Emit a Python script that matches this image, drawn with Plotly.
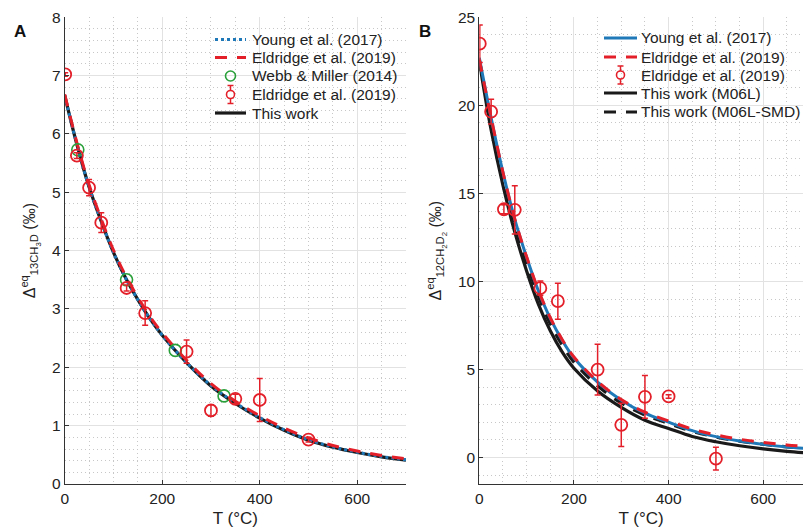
import plotly.graph_objects as go

# ---------------- Panel A data ----------------
T_curve_A = [0, 25, 50, 75, 100, 125, 150, 175, 200, 250, 300, 350, 400, 450, 500, 550, 600, 650, 700]
this_work_A = [6.66, 5.82, 5.09, 4.50, 3.97, 3.53, 3.16, 2.83, 2.55, 2.08, 1.68, 1.38, 1.13, 0.92, 0.75, 0.63, 0.54, 0.466, 0.41]
young_A = [6.66, 5.82, 5.09, 4.50, 3.97, 3.53, 3.16, 2.83, 2.55, 2.08, 1.69, 1.39, 1.14, 0.93, 0.76, 0.635, 0.545, 0.47, 0.415]
eldridge_A = [6.68, 5.85, 5.13, 4.54, 4.01, 3.57, 3.20, 2.87, 2.59, 2.12, 1.72, 1.42, 1.17, 0.96, 0.79, 0.66, 0.565, 0.49, 0.43]

webb_T = [26.85, 126.85, 226.85, 326.85]
webb_val = [5.73, 3.50, 2.29, 1.51]

eld_pts_T_A = [1, 25, 50, 75, 127, 165, 250, 300, 350, 400, 500]
eld_pts_A = [7.02, 5.63, 5.08, 4.48, 3.36, 2.93, 2.27, 1.26, 1.46, 1.44, 0.76]
eld_err_A = [0.03, 0.05, 0.14, 0.17, 0.05, 0.21, 0.20, 0.10, 0.08, 0.37, 0.04]

legend_A = ["Young et al. (2017)", "Eldridge et al. (2019)", "Webb & Miller (2014)",
            "Eldridge et al. (2019)", "This work"]

# ---------------- Panel B data ----------------
T_curve_B = [0, 25, 50, 75, 100, 125, 150, 175, 200, 250, 300, 350, 400, 450, 500, 550, 600, 650, 700]
young_B = [22.7, 19.3, 16.2, 13.53, 11.38, 9.46, 7.90, 6.67, 5.67, 4.29, 3.26, 2.52, 2.01, 1.53, 1.19, 0.94, 0.75, 0.60, 0.50]
eldridge_B = [22.6, 19.3, 16.2, 13.55, 11.40, 9.50, 7.94, 6.71, 5.71, 4.33, 3.30, 2.58, 2.08, 1.62, 1.29, 1.04, 0.86, 0.72, 0.62]
m06l_B = [22.5, 18.6, 15.45, 12.8, 10.6, 8.7, 7.2, 6.0, 5.07, 3.78, 2.85, 2.12, 1.65, 1.20, 0.90, 0.67, 0.49, 0.35, 0.25]
m06l_smd_B = [22.6, 19.0, 15.85, 13.2, 11.05, 9.15, 7.6, 6.4, 5.42, 4.08, 3.1, 2.42, 1.94, 1.49, 1.17, 0.93, 0.76, 0.61, 0.51]

eld_pts_T_B = [1, 25, 52, 75, 129, 166, 250, 300, 350, 400, 500]
eld_pts_B = [23.5, 19.64, 14.1, 14.07, 9.62, 8.88, 5.0, 1.86, 3.45, 3.47, -0.06]
eld_err_B = [1.06, 0.7, 0.25, 1.37, 0.4, 1.02, 1.44, 1.23, 1.21, 0.1, 0.64]

legend_B = ["Young et al. (2017)", "Eldridge et al. (2019)", "Eldridge et al. (2019)",
            "This work (M06L)", "This work (M06L-SMD)"]

# ---------------- styles ----------------
RED = "#e3202a"
BLUE = "#1f78b8"
BLACK = "#1a1a1a"
GREEN = "#2aa03a"
FONT = "Liberation Sans, Arial, Helvetica, sans-serif"
DASH = "12px,10px"

W, H = 803, 531

fig = go.Figure()

# Panel A traces
fig.add_trace(go.Scatter(x=T_curve_A, y=this_work_A, mode="lines", name=legend_A[4],
                         line=dict(color=BLACK, width=3.2, shape="spline"), xaxis="x", yaxis="y"))
fig.add_trace(go.Scatter(x=T_curve_A, y=young_A, mode="lines", name=legend_A[0],
                         line=dict(color=BLUE, width=3, dash="3px,3px", shape="spline"), xaxis="x", yaxis="y"))
fig.add_trace(go.Scatter(x=T_curve_A, y=eldridge_A, mode="lines", name=legend_A[1],
                         line=dict(color=RED, width=3, dash=DASH, shape="spline"), xaxis="x", yaxis="y"))
fig.add_trace(go.Scatter(x=webb_T, y=webb_val, mode="markers", name=legend_A[2],
                         marker=dict(symbol="circle-open", size=12, color=GREEN, line=dict(width=1.6)),
                         xaxis="x", yaxis="y"))
fig.add_trace(go.Scatter(x=eld_pts_T_A, y=eld_pts_A, mode="markers", name=legend_A[3],
                         marker=dict(symbol="circle-open", size=12, color=RED, line=dict(width=1.8)),
                         error_y=dict(type="data", array=eld_err_A, color=RED, thickness=1.5, width=3),
                         xaxis="x", yaxis="y"))

# Panel B traces
fig.add_trace(go.Scatter(x=T_curve_B, y=m06l_B, mode="lines", name=legend_B[3],
                         line=dict(color=BLACK, width=3.2, shape="spline"), xaxis="x2", yaxis="y2"))
fig.add_trace(go.Scatter(x=T_curve_B, y=m06l_smd_B, mode="lines", name=legend_B[4],
                         line=dict(color=BLACK, width=3.2, dash=DASH, shape="spline"), xaxis="x2", yaxis="y2"))
fig.add_trace(go.Scatter(x=T_curve_B, y=young_B, mode="lines", name=legend_B[0],
                         line=dict(color=BLUE, width=3, shape="spline"), xaxis="x2", yaxis="y2"))
fig.add_trace(go.Scatter(x=T_curve_B, y=eldridge_B, mode="lines", name=legend_B[1],
                         line=dict(color=RED, width=3, dash=DASH, shape="spline"), xaxis="x2", yaxis="y2"))
fig.add_trace(go.Scatter(x=eld_pts_T_B, y=eld_pts_B, mode="markers", name=legend_B[2],
                         marker=dict(symbol="circle-open", size=12, color=RED, line=dict(width=1.8)),
                         error_y=dict(type="data", array=eld_err_B, color=RED, thickness=1.5, width=3),
                         xaxis="x2", yaxis="y2"))

fig.update_traces(showlegend=False)


def px(x):
    return x / W


def py(y):
    return 1 - y / H


def xaxis_cfg(domain, rng):
    return dict(domain=domain, range=rng, tick0=0, dtick=200, showline=True, linecolor="#333",
                linewidth=1, ticks="inside", ticklen=4, tickcolor="#333", showgrid=True,
                gridcolor="#e2e2e2", gridwidth=1, zeroline=False, automargin=False,
                minor=dict(dtick=50, showgrid=True, gridcolor="#c8c8c8", griddash="1px,3px", gridwidth=1),
                tickfont=dict(size=15.5, color="#222"),
                title=dict(text="T (°C)", font=dict(size=17, color="#222"), standoff=6))


def yaxis_cfg(domain, rng, dtick, mdtick, title, anchor):
    return dict(domain=domain, range=rng, tick0=0, dtick=dtick, showline=True, linecolor="#333",
                linewidth=1, ticks="inside", ticklen=4, tickcolor="#333", showgrid=True,
                gridcolor="#e2e2e2", gridwidth=1, zeroline=False, anchor=anchor, automargin=False,
                minor=dict(dtick=mdtick, showgrid=True, gridcolor="#c8c8c8", griddash="1px,3px", gridwidth=1),
                tickfont=dict(size=15.5, color="#222"),
                title=dict(text=title, font=dict(size=16, color="#222"), standoff=12))


# ---------------- manual legends (real text + sample glyphs) ----------------
shapes = []
annotations = []


def leg_text(x, y, text):
    annotations.append(dict(text=text, x=px(x), y=py(y), xref="paper", yref="paper", showarrow=False,
                            xanchor="left", yanchor="middle", font=dict(size=15.5, color="#222")))


def leg_line(x0, x1, y, color, dash, width):
    shapes.append(dict(type="line", xref="paper", yref="paper", x0=px(x0), x1=px(x1), y0=py(y), y1=py(y),
                       line=dict(color=color, width=width, dash=dash)))


def leg_circle(xc, yc, r, color, width):
    shapes.append(dict(type="circle", xref="paper", yref="paper", x0=px(xc - r), x1=px(xc + r),
                       y0=py(yc + r), y1=py(yc - r), line=dict(color=color, width=width)))


def leg_errbar(xc, yc, r, half, color):
    leg_circle(xc, yc, r, color, 1.6)
    for a, b in ((yc - half, yc - r), (yc + r, yc + half)):
        shapes.append(dict(type="line", xref="paper", yref="paper", x0=px(xc), x1=px(xc),
                           y0=py(a), y1=py(b), line=dict(color=color, width=1.5)))
    for yy in (yc - half, yc + half):
        shapes.append(dict(type="line", xref="paper", yref="paper", x0=px(xc - 3), x1=px(xc + 3),
                           y0=py(yy), y1=py(yy), line=dict(color=color, width=1.5)))


# Legend A
rowsA = [39.5, 57.5, 76, 94.5, 113]
lxA0, lxA1, ltA = 215, 246, 252
leg_line(lxA0, lxA1, rowsA[0], BLUE, "3px,3px", 3)
leg_line(lxA0, lxA1, rowsA[1], RED, DASH, 3)
leg_circle((lxA0 + lxA1) / 2, rowsA[2], 5, GREEN, 1.6)
leg_errbar((lxA0 + lxA1) / 2, rowsA[3], 4, 9, RED)
leg_line(lxA0, lxA1, rowsA[4], BLACK, "solid", 3.2)
for r, t in zip(rowsA, legend_A):
    leg_text(ltA - 2, r, t)

# Legend B
rowsB = [38, 57, 75, 93, 112]
lxB0, lxB1, ltB = 604, 637, 641
leg_line(lxB0, lxB1, rowsB[0], BLUE, "solid", 3)
leg_line(lxB0, lxB1, rowsB[1], RED, DASH, 3)
leg_errbar((lxB0 + lxB1) / 2, rowsB[2], 4, 9, RED)
leg_line(lxB0, lxB1, rowsB[3], BLACK, "solid", 3.2)
leg_line(lxB0, lxB1, rowsB[4], BLACK, DASH, 3.2)
for r, t in zip(rowsB, legend_B):
    leg_text(ltB - 2, r, t)

# Panel letters
annotations.append(dict(text="<b>A</b>", x=px(20), y=py(32), xref="paper", yref="paper", showarrow=False,
                        font=dict(size=17, color="#111"), xanchor="center", yanchor="middle"))
annotations.append(dict(text="<b>B</b>", x=px(425), y=py(32), xref="paper", yref="paper", showarrow=False,
                        font=dict(size=17, color="#111"), xanchor="center", yanchor="middle"))

ydom = [1 - 484 / H, 1 - 17.3 / H]
fig.update_layout(
    width=W, height=H, margin=dict(l=0, r=0, t=0, b=0, autoexpand=False),
    paper_bgcolor="white", plot_bgcolor="white",
    font=dict(family=FONT, color="#222"),
    showlegend=False,
    xaxis=dict(**xaxis_cfg([64.7 / W, 406 / W], [0, 700]), anchor="y"),
    yaxis=yaxis_cfg(ydom, [0, 8], 1, 0.2,
                    "Δ<sup>eq</sup><sub>13</sub><sub>CH<sub>3</sub>D</sub> (‰)", "x"),
    xaxis2=dict(**xaxis_cfg([479.3 / W, 1.0], [0, 684]), anchor="y2"),
    yaxis2=yaxis_cfg(ydom, [-1.5, 25], 5, 1,
                     "Δ<sup>eq</sup><sub>12</sub><sub>CH<sub>2</sub>D<sub>2</sub></sub> (‰)", "x2"),
    shapes=shapes,
    annotations=annotations,
)

fig.write_html("out.html", config={"displayModeBar": False},
               post_script="document.body.style.margin='0';document.body.style.overflow='hidden';")
